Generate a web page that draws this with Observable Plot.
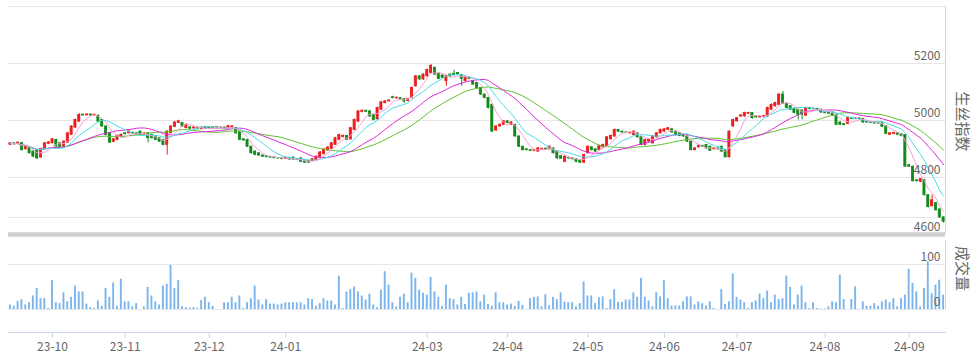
<!DOCTYPE html>
<html><head><meta charset="utf-8">
<script src="https://cdn.jsdelivr.net/npm/d3@7"></script>
<script src="https://cdn.jsdelivr.net/npm/@observablehq/plot@0.6"></script>
<style>
html,body{margin:0;padding:0;background:#fff;}
#chart{width:973px;height:362px;position:relative;overflow:hidden;}
#chart svg{display:block;}
</style></head><body><div id="chart"></div>
<script>
// daily candles (trading-day index order)
const open = [
4915,4920,4917,4920,4899,4906,4891,4894,4870,4900,
4918,4920,4932,4920,4908,4922,4950,4975,4996,5020,
5018,5021,5018,5017,5002,4979,4955,4925,4932,4944,
4955,4955,4957,4955,4961,4951,4955,4950,4944,4938,
4932,4914,4955,4977,4991,4991,4973,4976,4972,4975,
4970,4975,4974,4972,4976,4972,4975,4972,4975,4973,
4961,4934,4932,4908,4891,4885,4877,4875,4872,4870,
4868,4867,4865,4868,4870,4863,4867,4861,4858,4858,
4861,4870,4882,4895,4900,4915,4932,4942,4946,4934,
4967,4996,5030,5034,5032,5020,5004,5038,5061,5067,
5082,5078,5078,5075,5068,5079,5120,5155,5144,5155,
5167,5185,5165,5158,5138,5161,5163,5167,5160,5138,
5150,5138,5132,5114,5091,5079,5055,4965,4979,4985,
4997,4985,4985,4944,4908,4899,4896,4894,4891,4900,
4901,4899,4902,4891,4875,4855,4869,4867,4864,4859,
4852,4885,4906,4899,4896,4906,4910,4934,4944,4967,
4961,4958,4955,4949,4955,4941,4914,4926,4920,4941,
4955,4961,4967,4969,4961,4955,4949,4944,4926,4896,
4906,4911,4914,4908,4899,4902,4908,4896,4871,4979,
4997,5014,5014,5024,5026,5012,5011,5012,5014,5038,
5050,5055,5091,5059,5050,5040,5038,5035,5017,5044,
5040,5040,5038,5028,5026,5028,5020,4993,4987,4988,
5008,5006,5007,5005,4995,4993,4992,4990,4990,4980,
4950,4953,4955,4952,4949,4843,4838,4790,4785,4791,
4738,4699,4710,4688,4660];
const close = [
4920,4917,4922,4896,4908,4885,4873,4867,4900,4920,
4923,4934,4909,4908,4926,4955,4979,5002,5020,5018,
5021,5018,5020,4996,4979,4949,4922,4934,4946,4950,
4952,4961,4955,4950,4949,4954,4938,4938,4932,4926,
4914,4961,4979,4993,4997,4979,4985,4971,4975,4970,
4975,4972,4972,4976,4972,4975,4970,4980,4979,4955,
4932,4930,4908,4885,4879,4877,4873,4872,4870,4868,
4867,4865,4868,4863,4863,4862,4855,4852,4852,4864,
4873,4888,4898,4905,4920,4938,4949,4946,4932,4973,
5002,5032,5034,5031,5014,5002,5044,5064,5067,5070,
5079,5080,5075,5067,5075,5114,5155,5144,5161,5177,
5191,5161,5146,5150,5155,5153,5160,5161,5146,5150,
5146,5126,5114,5091,5079,5044,4961,4979,4985,4997,
4991,4993,4944,4908,4896,4896,4894,4896,4902,4901,
4899,4908,4885,4867,4866,4873,4867,4864,4855,4852,
4879,4908,4896,4891,4910,4914,4941,4946,4967,4961,
4958,4957,4957,4961,4941,4914,4932,4932,4944,4955,
4967,4969,4973,4958,4949,4946,4944,4926,4896,4902,
4911,4908,4902,4894,4902,4899,4891,4871,4961,5002,
5008,5018,5026,5026,5008,5011,5012,5016,5044,5055,
5061,5091,5059,5044,5038,5026,5020,5021,5044,5040,
5041,5038,5028,5026,5024,5017,4985,4985,4984,5008,
5006,5007,5005,4993,4993,4992,4990,4989,4978,4953,
4955,4956,4950,4946,4838,4838,4787,4787,4794,4738,
4696,4720,4685,4660,4645];
const high = [
4923,4922,4925,4924,4911,4908,4893,4896,4903,4923,
4926,4937,4934,4922,4929,4958,4982,5005,5024,5023,
5024,5023,5023,5019,5004,4981,4957,4937,4949,4953,
4957,4964,4959,4957,4963,4957,4957,4952,4946,4940,
4934,4964,4982,4996,5001,4993,4988,4978,4978,4977,
4978,4977,4976,4979,4978,4978,4977,4983,4982,4975,
4963,4936,4934,4910,4893,4887,4879,4877,4874,4872,
4870,4869,4871,4870,4872,4865,4869,4863,4860,4867,
4876,4891,4901,4908,4923,4941,4952,4949,4948,4976,
5005,5035,5037,5036,5034,5022,5047,5067,5070,5073,
5085,5082,5080,5077,5078,5117,5158,5157,5164,5180,
5197,5187,5167,5160,5158,5163,5176,5169,5162,5153,
5152,5140,5134,5116,5093,5081,5057,4982,4988,5000,
4999,4996,4987,4946,4910,4901,4898,4898,4905,4903,
4903,4911,4904,4893,4877,4876,4871,4869,4866,4861,
4882,4911,4908,4901,4913,4917,4944,4949,4970,4969,
4963,4960,4959,4964,4957,4943,4935,4935,4947,4958,
4970,4972,4976,4971,4963,4957,4951,4946,4928,4905,
4914,4913,4916,4910,4905,4904,4910,4898,4964,5005,
5011,5021,5029,5029,5028,5014,5015,5019,5047,5058,
5064,5094,5102,5061,5052,5042,5040,5037,5047,5046,
5044,5042,5040,5030,5028,5030,5022,4995,4990,5011,
5010,5009,5009,5007,4997,4995,4994,4992,4992,4982,
4958,4959,4957,4954,4951,4846,4840,4792,4797,4793,
4740,4738,4712,4690,4662];
const low = [
4912,4914,4915,4893,4896,4882,4870,4863,4868,4898,
4915,4918,4906,4905,4906,4920,4948,4973,4994,5015,
5016,5015,5016,4993,4976,4946,4919,4922,4930,4942,
4949,4953,4952,4947,4946,4949,4922,4935,4929,4923,
4911,4879,4953,4975,4989,4976,4971,4968,4970,4967,
4968,4969,4969,4970,4969,4970,4967,4970,4973,4952,
4929,4927,4905,4882,4876,4874,4870,4869,4867,4865,
4864,4862,4863,4860,4860,4859,4852,4849,4849,4856,
4859,4868,4879,4892,4897,4912,4929,4939,4929,4931,
4964,4993,5027,5028,5011,4999,5001,5035,5058,5064,
5076,5075,5072,5060,5065,5076,5117,5141,5141,5152,
5164,5158,5143,5147,5120,5150,5157,5158,5120,5135,
5143,5123,5111,5088,5076,5041,4958,4962,4976,4982,
4988,4982,4941,4905,4893,4893,4891,4891,4888,4897,
4896,4896,4882,4864,4863,4852,4864,4861,4852,4849,
4849,4882,4893,4888,4893,4903,4907,4931,4941,4958,
4955,4954,4952,4946,4938,4911,4911,4923,4917,4938,
4952,4958,4964,4955,4946,4943,4941,4923,4893,4893,
4903,4905,4899,4891,4896,4896,4888,4868,4868,4976,
4994,5011,5011,5021,5005,5008,5008,5009,5011,5035,
5047,5052,5056,5041,5035,5023,5002,5002,5014,5037,
5037,5035,5025,5023,5021,5014,4982,4982,4981,4985,
5003,5003,5002,4990,4990,4989,4987,4986,4975,4950,
4947,4950,4947,4943,4835,4835,4784,4784,4782,4735,
4693,4696,4682,4657,4640];
const volume = [
10,7,18,22,10,15,30,47,24,24,
2,64,15,13,37,17,27,52,39,39,
12,4,2,19,7,47,27,59,7,67,
17,17,6,13,0,6,49,30,17,10,
52,56,98,47,64,6,4,3,4,2,
20,27,15,7,0,0,15,15,27,15,
30,2,15,24,52,21,10,22,12,12,
10,12,15,15,15,15,15,10,24,22,
7,13,24,19,19,10,74,2,39,44,
50,39,30,21,34,10,4,43,84,54,
15,6,27,34,15,81,69,43,36,32,
71,39,27,7,54,24,22,10,27,11,
36,37,39,17,32,11,7,37,15,15,
10,12,7,18,9,0,24,27,28,6,
33,8,27,22,37,16,15,15,6,13,
61,30,30,13,26,28,2,22,44,16,
16,21,21,37,27,69,27,19,6,37,
28,64,24,8,8,8,17,28,28,10,
17,13,8,17,2,0,44,11,17,79,
27,21,15,2,15,19,34,24,41,15,
32,22,24,74,49,10,32,52,15,2,
15,2,1,1,6,17,15,76,22,0,
22,50,0,17,7,7,13,7,17,21,
15,24,6,24,32,89,58,39,6,47,
106,35,54,65,32];

// month tick positions (trading-day index) and their labels
const monthTickIndex = [11, 30, 52, 72, 109, 130, 151, 171, 190, 213, 235];
const monthTickLabels = ["23-10","23-11","23-12","24-01","24-03","24-04","24-05","24-06","24-07","24-08","24-09"];
const priceTicks = [4600, 4800, 5000, 5200];
const priceGrid = [4660, 4800, 5000, 5200, 5400];
const priceDomain = [4600, 5400];
const volumeTicks = [0, 100];
const volumeDomain = [0, 153];
const maPeriods = [30, 20, 10, 5];
const maColors = ["#62bf2e", "#dc28dc", "#45dde9", "#f7a3d6"];

const W = 973, ML = 8, MR = 28;
const rows = open.map((o, i) => ({i, open: o, close: close[i], high: high[i], low: low[i], volume: volume[i]}));
const N = rows.length;
const idx = rows.map(d => d.i);
const UP = "#ee1c1c", DOWN = "#138a1a";
const col = d => d.close >= d.open ? UP : DOWN;
const step = (W - ML - MR) / N;
const font = "'Noto Sans CJK SC','Open Sans',sans-serif";
const labelColor = "#666666";
const axisColor = "#ccd6eb";

const topChart = Plot.plot({
  width: W, height: 238, marginLeft: ML, marginRight: MR, marginTop: 6, marginBottom: 4,
  style: {fontFamily: font, background: "transparent", overflow: "visible"},
  x: {type: "band", domain: idx, paddingInner: 0.45, paddingOuter: 0.225, axis: null},
  y: {domain: priceDomain, axis: null},
  marks: [
    Plot.ruleY(priceGrid, {stroke: "#e6e6e6", strokeWidth: 1}),
    Plot.ruleY([priceDomain[0]], {stroke: "#d0d0d0", strokeWidth: 4.5}),
    Plot.ruleX([N - 1], {x: d => d, dx: step / 2, stroke: axisColor}),
    Plot.ruleX(rows, {x: "i", y1: "low", y2: "high", stroke: col, strokeWidth: 1}),
    Plot.barY(rows, {x: "i", y1: "open", y2: "close", fill: col, stroke: col, strokeWidth: 0.8, inset: 0}),
    ...maPeriods.map((k, j) => Plot.lineY(rows, Plot.windowY({k, anchor: "end"}, {x: "i", y: "close", stroke: maColors[j], strokeWidth: 1}))),
    Plot.text(priceTicks, {y: d => d, text: d => String(d), frameAnchor: "right", textAnchor: "end", lineAnchor: "middle", dx: -5, dy: -7, fill: labelColor, fontSize: 12}),
    Plot.text(["生丝指数"], {frameAnchor: "right", textAnchor: "middle", lineAnchor: "middle", dx: 16, dy: 1, rotate: 90, fill: labelColor, fontSize: 15})
  ]
});

const hasAxisMark = typeof Plot.axisX === "function";
const bottomMarks = [
  Plot.ruleY(volumeTicks, {stroke: "#e6e6e6"}),
  Plot.frame({anchor: "bottom", stroke: axisColor}),
  Plot.ruleX([N - 1], {x: d => d, y1: volumeDomain[0], y2: volumeDomain[1], dx: step / 2, stroke: axisColor}),
  Plot.barY(rows, {x: "i", y: "volume", fill: "#7cb5ec", inset: 0}),
  Plot.text(volumeTicks, {y: d => d, text: d => String(d), frameAnchor: "right", textAnchor: "end", lineAnchor: "middle", dx: -5, dy: -7, fill: labelColor, fontSize: 12}),
  Plot.text(["成交量"], {frameAnchor: "top-right", textAnchor: "middle", lineAnchor: "middle", dx: 16, dy: 28, rotate: 90, fill: labelColor, fontSize: 15})
];
if (hasAxisMark) {
  bottomMarks.push(Plot.axisX({ticks: monthTickIndex, tickFormat: d => monthTickLabels[monthTickIndex.indexOf(d)],
    tickSize: 6, tickPadding: 4, stroke: axisColor, fill: labelColor, fontSize: 12, label: null}));
}
const bottomChart = Plot.plot({
  width: W, height: 124, marginLeft: ML, marginRight: MR, marginTop: 2, marginBottom: 30,
  style: {fontFamily: font, background: "transparent", overflow: "visible", color: labelColor, fontSize: "12px"},
  x: hasAxisMark
    ? {type: "band", domain: idx, paddingInner: 0.5, paddingOuter: 0.25, axis: null}
    : {type: "band", domain: idx, paddingInner: 0.5, paddingOuter: 0.25, axis: "bottom", ticks: monthTickIndex,
       tickFormat: d => monthTickLabels[monthTickIndex.indexOf(d)], tickSize: 6, tickPadding: 4, label: null},
  y: {domain: volumeDomain, range: [71, 2], axis: null},
  marks: bottomMarks
});

const el = document.getElementById("chart");
el.appendChild(topChart);
el.appendChild(bottomChart);
</script>
</body></html>
